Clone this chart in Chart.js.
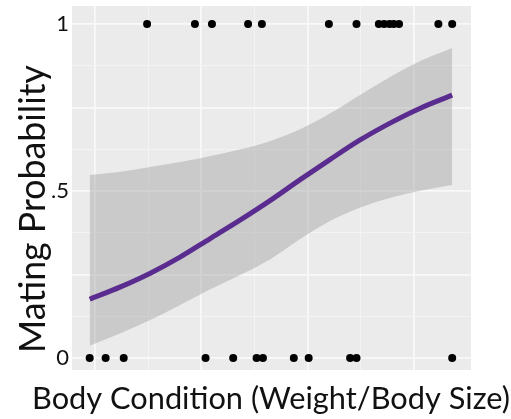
<!DOCTYPE html>
<html><head><meta charset="utf-8">
<script src="https://cdn.jsdelivr.net/npm/chart.js@4"></script>
<style>html,body{margin:0;padding:0;background:#fff}</style>
</head><body>
<canvas id="c" width="511" height="419"></canvas>
<script>
// ---- data ----
const curveX  = [0.95, 1.24, 1.52, 1.80, 2.08, 2.36, 2.65, 2.93, 3.21, 3.49, 3.78, 4.06, 4.36];
const fitProb = [0.176, 0.213, 0.254, 0.302, 0.357, 0.412, 0.472, 0.534, 0.594, 0.652, 0.704, 0.748, 0.787];
const upperCI = [0.548, 0.558, 0.572, 0.587, 0.604, 0.624, 0.650, 0.685, 0.732, 0.787, 0.842, 0.889, 0.928];
const lowerCI = [0.037, 0.074, 0.114, 0.159, 0.205, 0.248, 0.296, 0.356, 0.410, 0.450, 0.480, 0.501, 0.518];
const matedX   = [1.49, 1.94, 2.10, 2.44, 2.57, 3.20, 3.46, 3.67, 3.72, 3.77, 3.81, 3.86, 4.23, 4.36];
const unmatedX = [0.95, 1.10, 1.27, 2.04, 2.30, 2.52, 2.58, 2.87, 3.01, 3.40, 3.46, 4.36];
const yTickValues = [0, 0.5, 1];
const yTickLabels = ['0', '.5', '1'];
const yGridValues = [0, 0.125, 0.25, 0.375, 0.5, 0.625, 0.75, 0.875, 1];
const xGridValues = [1, 1.5, 2, 2.5, 3, 3.5, 4];
const xTitle = 'Body Condition (Weight/Body Size)';
const yTitle = 'Mating Probability';

const FONT = 'Lato, "Open Sans", sans-serif';

const panelBg = {
  id: 'panelBg',
  beforeDraw(chart) {
    const {ctx, chartArea: a} = chart;
    ctx.save();
    ctx.fillStyle = '#ebebeb';
    ctx.fillRect(a.left, a.top, a.right - a.left, a.bottom - a.top);
    ctx.restore();
  }
};
function fittedFont(ctx, text, target) {
  ctx.font = '100px ' + FONT;
  const s = 100 * target / ctx.measureText(text).width;
  ctx.font = s + 'px ' + FONT;
}
const titlesPlugin = {
  id: 'titlesPlugin',
  afterDraw(chart) {
    const ctx = chart.ctx;
    // x-axis title
    ctx.save();
    fittedFont(ctx, xTitle, 478);
    ctx.fillStyle = '#111';
    ctx.textAlign = 'center';
    ctx.textBaseline = 'alphabetic';
    ctx.fillText(xTitle, 271, 409);
    ctx.restore();
    // y-axis title
    ctx.save();
    ctx.translate(45, 209);
    ctx.rotate(-Math.PI / 2);
    fittedFont(ctx, yTitle, 288);
    ctx.fillStyle = '#111';
    ctx.textAlign = 'center';
    ctx.textBaseline = 'alphabetic';
    ctx.fillText(yTitle, 0, 0);
    ctx.restore();
  }
};

const pts = (xs, ys) => xs.map((x, i) => ({x, y: ys[i]}));
const points = matedX.map(x => ({x, y: 1})).concat(unmatedX.map(x => ({x, y: 0})));

new Chart(document.getElementById('c'), {
  type: 'scatter',
  data: {
    datasets: [
      {type: 'line', label: 'upper', data: pts(curveX, upperCI), borderWidth: 0, pointRadius: 0,
       fill: '+1', backgroundColor: 'rgba(153,153,153,0.4)', cubicInterpolationMode: 'monotone', order: 3},
      {type: 'line', label: 'lower', data: pts(curveX, lowerCI), borderWidth: 0, pointRadius: 0,
       fill: false, cubicInterpolationMode: 'monotone', order: 3},
      {type: 'line', label: 'fit', data: pts(curveX, fitProb), borderColor: '#5b2c8f', borderWidth: 5,
       pointRadius: 0, fill: false, cubicInterpolationMode: 'monotone', borderCapStyle: 'butt', order: 1},
      {type: 'scatter', label: 'obs', data: points, backgroundColor: '#000', borderWidth: 0,
       pointRadius: 4, order: 0}
    ]
  },
  options: {
    responsive: false,
    animation: false,
    layout: {padding: {top: 6, right: 40, left: 0, bottom: 0}},
    plugins: {legend: {display: false}, tooltip: {enabled: false}},
    scales: {
      x: {
        type: 'linear', min: 0.7836, max: 4.537,
        afterBuildTicks: s => { s.ticks = xGridValues.map(v => ({value: v})); },
        afterFit: s => { s.height = 49; s.paddingLeft = 0; s.paddingRight = 0; },
        ticks: {display: false},
        grid: {
          drawTicks: false,
          color: c => (c.tick && Number.isInteger(c.tick.value)) ? '#f9f9f9' : '#f3f3f3',
          lineWidth: c => (c.tick && Number.isInteger(c.tick.value)) ? 1.7 : 1
        },
        border: {display: false},
        title: {display: false}
      },
      y: {
        type: 'linear', min: -0.0359, max: 1.0539,
        afterBuildTicks: s => { s.ticks = yGridValues.map(v => ({value: v})); },
        afterFit: s => { s.width = 72; s.paddingTop = 0; s.paddingBottom = 0; },
        ticks: {
          padding: 3, color: '#111', font: {family: FONT, size: 22}, autoSkip: false,
          callback: v => { const i = yTickValues.indexOf(v); return i >= 0 ? yTickLabels[i] : ''; }
        },
        grid: {
          drawTicks: false,
          color: c => (c.tick && Math.abs(c.tick.value * 4 - Math.round(c.tick.value * 4)) < 1e-9) ? '#f9f9f9' : '#f3f3f3',
          lineWidth: c => (c.tick && Math.abs(c.tick.value * 4 - Math.round(c.tick.value * 4)) < 1e-9) ? 1.7 : 1
        },
        border: {display: false}
      }
    }
  },
  plugins: [panelBg, titlesPlugin]
});
</script>
</body></html>
